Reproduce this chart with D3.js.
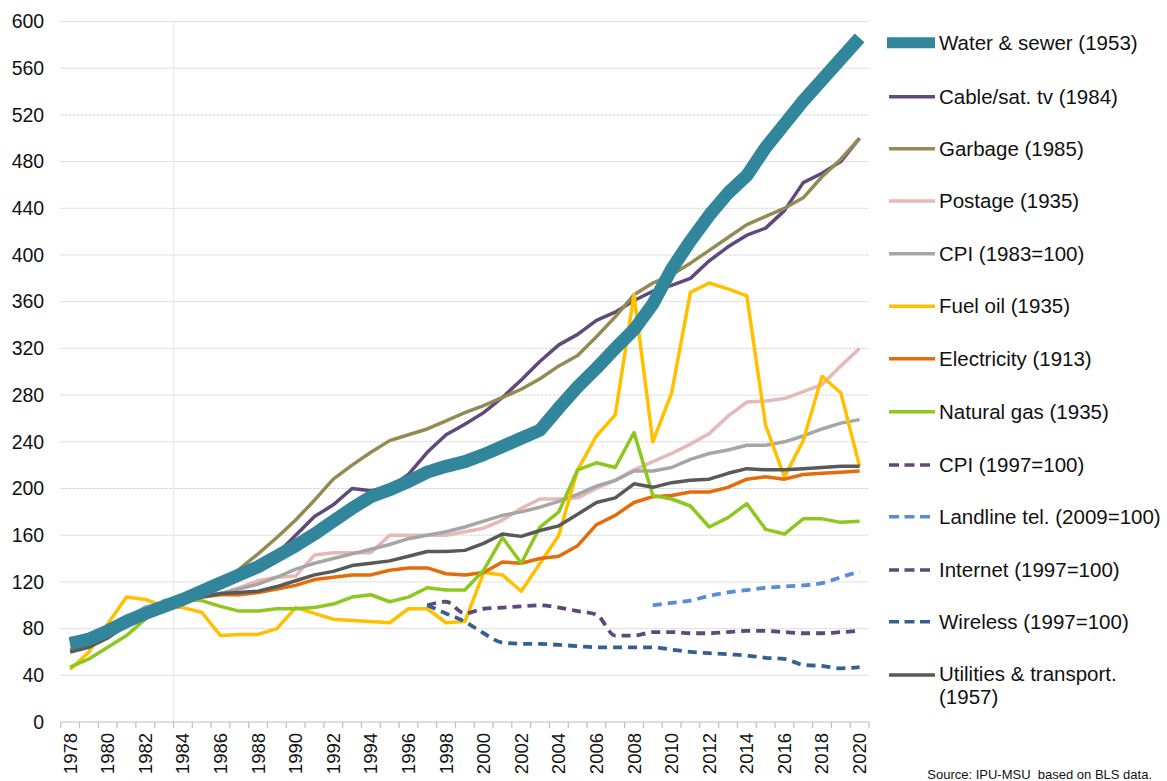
<!DOCTYPE html>
<html>
<head>
<meta charset="utf-8">
<script src="https://cdn.jsdelivr.net/npm/d3@7"></script>
<style>
  html, body { margin: 0; padding: 0; background: #fff; }
  svg { display: block; font-family: "Liberation Sans", Arial, Helvetica, sans-serif; }
  .src { white-space: pre; }
</style>
</head>
<body>
<svg id="chart" width="1167" height="781"></svg>
<script>
// ---------- DATA ----------
const years = d3.range(1978, 2021);
const yTicks = [0, 40, 80, 120, 160, 200, 240, 280, 320, 360, 400, 440, 480, 520, 560, 600];
const xLabelYears = d3.range(1978, 2021, 2);

const waterSewer = [67,71,78,86,93,99,105,112,119,126,133,142,151,161,172,183,193,199,206,214,219,223,229,236,243,250,269,287,303,320,336,358,388,412,434,453,468,492,512,532,550,568,586];
const cableTv = [null,null,null,null,null,null,104,111,118,125,133,144,160,176,186,200,198,201,212,231,246,255,265,278,293,309,323,332,344,351,361,369,374,380,395,407,417,423,438,462,470,480,500];
const garbage = [null,null,null,null,null,null,null,111,119,131,144,158,173,190,208,220,231,241,246,251,258,265,271,278,285,294,305,314,330,347,366,376,383,393,404,415,426,433,440,449,467,482,500];
const postage = [72,74,79,88,99,100,101,107,110,115,121,124,125,143,145,145,145,160,160,160,160,163,166,173,183,191,191,192,200,207,216,223,230,238,247,262,274,275,277,283,289,305,320];
const cpi83 = [65,73,82,91,96,100,104,108,110,114,118,124,131,136,140,144,148,152,157,160,163,167,172,177,180,184,189,195,202,207,215,215,218,225,230,233,237,237,240,245,251,256,259];
const fuelOil = [45,60,84,107,105,99,98,94,74,75,75,80,98,93,88,87,86,85,97,97,85,86,128,126,112,136,160,216,245,263,366,240,282,368,376,371,365,254,210,241,296,282,219];
const electricity = [62,67,74,84,93,99,103,107,109,109,111,114,117,122,124,126,126,130,132,132,127,126,128,137,136,140,142,151,169,177,188,193,194,197,197,201,208,210,208,212,213,214,215];
const naturalGas = [47,54,64,74,88,104,105,104,99,95,95,97,97,98,101,107,109,103,107,115,113,113,130,158,136,167,180,216,222,218,248,194,191,185,167,175,187,165,161,174,174,171,172];
const cpi97 = []; // listed in the legend, no line visible in the chart
const landline = [null,null,null,null,null,null,null,null,null,null,null,null,null,null,null,null,null,null,null,null,null,null,null,null,null,null,null,null,null,null,null,100,102,104,108,111,113,115,116,117,119,124,129];
const internet = [null,null,null,null,null,null,null,null,null,null,null,null,null,null,null,null,null,null,null,100,103,93,97,98,99,100,98,95,92,74,74,77,77,76,76,77,78,78,77,76,76,77,78];
const wireless = [null,null,null,null,null,null,null,null,null,null,null,null,null,null,null,null,null,null,null,100,93,86,76,68,67,67,66,65,64,64,64,64,62,60,59,58,57,55,54,49,48,46,47];
const utilities = [60,64,72,83,91,98,103,107,110,111,112,116,121,126,129,134,136,138,142,146,146,147,153,161,159,164,168,178,188,192,204,201,205,207,208,213,217,216,216,217,218,219,219];

const seriesNames = ["Water & sewer (1953)","Cable/sat. tv (1984)","Garbage (1985)","Postage (1935)","CPI (1983=100)","Fuel oil (1935)","Electricity (1913)","Natural gas (1935)","CPI (1997=100)","Landline tel. (2009=100)","Internet (1997=100)","Wireless (1997=100)","Utilities & transport. (1957)"];
const seriesValues = [waterSewer, cableTv, garbage, postage, cpi83, fuelOil, electricity, naturalGas, cpi97, landline, internet, wireless, utilities];
const seriesColors = ["#31869b","#5f497a","#948a54","#e6b9b8","#a6a6a6","#ffc000","#e46c0a","#8dc81e","#5f497a","#558ed5","#5f497a","#376092","#595959"];
const seriesDashed = [false,false,false,false,false,false,false,false,true,true,true,true,false];

// ---------- LAYOUT ----------
const svg = d3.select("#chart");
const plot = { left: 60.7, right: 869, top: 21.5, bottom: 722 };

const x = d3.scaleBand().domain(years).range([plot.left, plot.right]).padding(0);
const xc = yr => x(yr) + x.bandwidth() / 2;
const y = d3.scaleLinear().domain([0, 600]).range([plot.bottom, plot.top]);

// gridlines
svg.append("g").selectAll("line").data(yTicks.filter(d => d > 0)).join("line")
  .attr("x1", plot.left).attr("x2", plot.right)
  .attr("y1", d => y(d)).attr("y2", d => y(d))
  .attr("stroke", "#d6d6d6").attr("stroke-width", 1).attr("stroke-dasharray", "3,1");

// faint vertical reference line (1983/1984 boundary)
svg.append("line")
  .attr("x1", x(1984)).attr("x2", x(1984))
  .attr("y1", plot.top).attr("y2", plot.bottom)
  .attr("stroke", "#e8e8e8").attr("stroke-width", 1.2);

// y axis labels
const yAxis = d3.axisLeft(y).tickValues(yTicks).tickSize(0).tickPadding(0);
const gy = svg.append("g").attr("transform", `translate(${plot.left - 16.5},0)`).call(yAxis);
gy.select(".domain").remove();
gy.selectAll("text").attr("font-size", 19.5).attr("fill", "#111")
  .attr("font-family", "'Liberation Sans', Arial, sans-serif");

// x axis line + ticks at category boundaries
svg.append("line").attr("x1", plot.left).attr("x2", plot.right)
  .attr("y1", plot.bottom).attr("y2", plot.bottom)
  .attr("stroke", "#bfbfbf").attr("stroke-width", 1.2);
const boundaries = years.map(d => x(d)).concat([plot.right]);
svg.append("g").selectAll("line").data(boundaries).join("line")
  .attr("x1", d => d).attr("x2", d => d)
  .attr("y1", plot.bottom).attr("y2", plot.bottom + 6)
  .attr("stroke", "#bfbfbf").attr("stroke-width", 1.2);

// x labels, rotated
svg.append("g").selectAll("text").data(xLabelYears).join("text")
  .attr("transform", d => `translate(${xc(d)},${plot.bottom + 11}) rotate(-90)`)
  .attr("text-anchor", "end").attr("dy", "0.35em")
  .attr("font-size", 18.5).attr("fill", "#111")
  .text(d => d);

// ---------- LINES ----------
const drawOrder = [1,2,3,4,5,6,7,8,9,10,11,12,0];
drawOrder.forEach(i => {
  const vals = seriesValues[i];
  if (!vals.length) return;
  const pts = years.map((yr, k) => ({ yr, v: vals[k] })).filter(p => p.v != null);
  const line = d3.line().x(p => xc(p.yr)).y(p => y(p.v))
    .curve(seriesDashed[i] ? d3.curveMonotoneX : d3.curveLinear);
  svg.append("path").datum(pts)
    .attr("d", line)
    .attr("fill", "none")
    .attr("stroke", seriesColors[i])
    .attr("stroke-width", i === 0 ? 13 : (seriesDashed[i] ? 3.8 : 3.5))
    .attr("stroke-linejoin", "round")
    .attr("stroke-linecap", "butt")
    .attr("stroke-dasharray", seriesDashed[i] ? "9,6" : null);
});

// ---------- LEGEND ----------
const legendY = [42.7, 96.7, 148.7, 201, 253.7, 306.3, 358.7, 411.7, 465, 516.7, 570, 621.7, 675];
const lg = svg.append("g");
seriesNames.forEach((name, i) => {
  const yy = legendY[i];
  lg.append("line")
    .attr("x1", i === 0 ? 887 : 889).attr("x2", 935)
    .attr("y1", yy).attr("y2", yy)
    .attr("stroke", seriesColors[i])
    .attr("stroke-width", i === 0 ? 11 : 3.5)
    .attr("stroke-dasharray", seriesDashed[i] ? "10,5.5" : null);
  if (name.startsWith("Utilities")) {
    lg.append("text").attr("x", 939).attr("y", yy - 1).attr("dy", "0.35em")
      .attr("font-size", 20.5).attr("fill", "#111").text("Utilities & transport.");
    lg.append("text").attr("x", 939).attr("y", yy + 22).attr("dy", "0.35em")
      .attr("font-size", 20.5).attr("fill", "#111").text("(1957)");
  } else {
    lg.append("text").attr("x", 939).attr("y", yy).attr("dy", "0.35em")
      .attr("font-size", 20.5).attr("fill", "#111").text(name);
  }
});

// source
svg.append("text").attr("class", "src").attr("x", 1152).attr("y", 779).attr("text-anchor", "end")
  .attr("font-size", 13).attr("fill", "#111")
  .text("Source: IPU-MSU  based on BLS data.");
</script>
</body>
</html>
